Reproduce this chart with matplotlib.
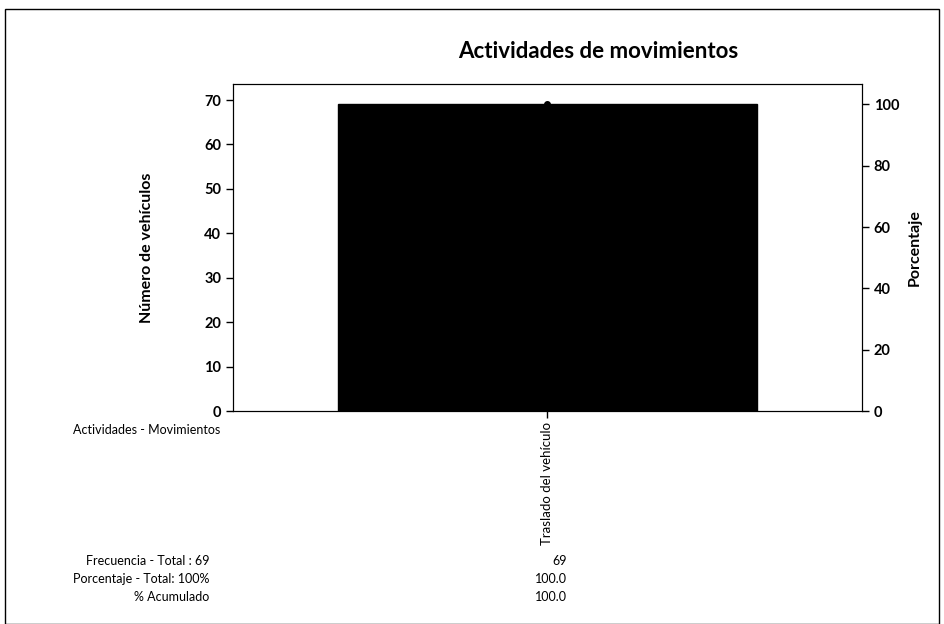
import matplotlib
matplotlib.use("Agg")
import matplotlib.pyplot as plt
from matplotlib.patches import Rectangle

plt.rcParams['font.family'] = ['Lato', 'DejaVu Sans']

categories = ["Traslado del vehículo"]
frequencies = [69]
percentages = [100.0]
cumulative = [100.0]
left_ticks = [0, 10, 20, 30, 40, 50, 60, 70]
right_ticks = [0, 20, 40, 60, 80, 100]

total = sum(frequencies)

fig = plt.figure(figsize=(9.44, 6.24), dpi=100)
fig.patch.set_facecolor("white")
fig.add_artist(Rectangle((0.005, 0.0), 0.99, 0.985, transform=fig.transFigure,
                         fill=False, edgecolor="black", linewidth=1.0))

ax = fig.add_axes([0.2468, 0.3413, 0.6663, 0.5240])
x = list(range(len(categories)))
ax.bar(x, frequencies, width=0.8, color="black", edgecolor="black")
ax.set_xlim(-0.6015, 0.6015)
ymax_left = 73.6
ax.set_ylim(0, ymax_left)
ax.set_yticks(left_ticks)
ax.set_xticks(x)
ax.tick_params(axis="y", direction="out", length=5, width=1, labelsize=10.5)
ax.tick_params(axis="x", direction="out", length=5, width=1, labelsize=9.5, pad=3)
ax.set_xticklabels(categories, rotation=90)
for t in ax.get_yticklabels():
    t.set_fontweight("bold")
ax.set_ylabel("Número de vehículos", fontsize=11.5, fontweight="bold", labelpad=36)

ax2 = ax.twinx()
ax2.set_ylim(0, ymax_left / total * 100)
ax2.set_yticks(right_ticks)
ax2.tick_params(axis="y", direction="out", length=5, width=1, labelsize=10.5)
for t in ax2.get_yticklabels():
    t.set_fontweight("bold")
ax2.plot(x, cumulative, marker="o", color="black", markersize=4, linewidth=1)
ax2.set_ylabel("Porcentaje", fontsize=11.5, fontweight="bold", labelpad=6)

fig.text(0.634, 0.918, "Actividades de movimientos", ha="center", va="center",
         fontsize=16, fontweight="bold")

# Table beneath the chart
fig.text(0.233, 0.311, "Actividades - Movimientos", ha="right", va="center", fontsize=9)
row_labels = ["Frecuencia - Total : %d" % total, "Porcentaje - Total: 100%", "% Acumulado"]
row_y = [0.101, 0.072, 0.043]
row_values = [str(frequencies[0]), "%.1f" % percentages[0], "%.1f" % cumulative[0]]
for lab, yy, val in zip(row_labels, row_y, row_values):
    fig.text(0.222, yy, lab, ha="right", va="center", fontsize=9)
    fig.text(0.601, yy, val, ha="right", va="center", fontsize=9)

fig.savefig("out.png", dpi=100)
